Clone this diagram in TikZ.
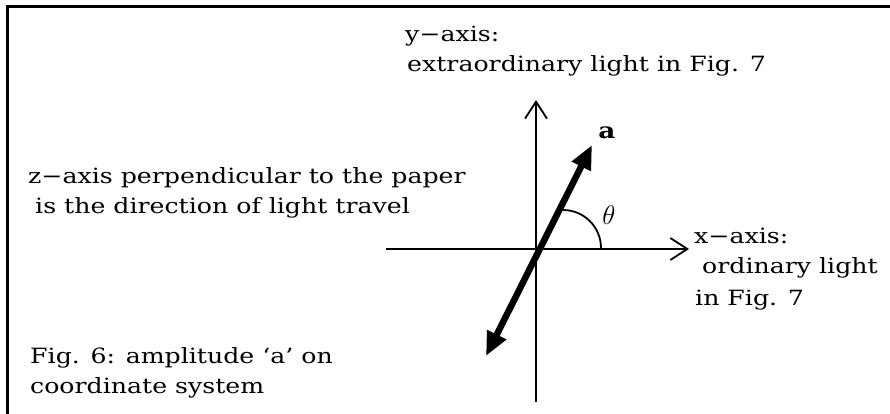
\documentclass[tikz,border=0pt]{standalone}
\usepackage{fontspec}
\setmainfont{DejaVu Serif}[FakeStretch=1.2]
\usetikzlibrary{arrows.meta}
\begin{document}
\begin{tikzpicture}[
    x=1pt, y=-1pt,
    every node/.style={inner sep=0pt, font=\fontsize{21}{30}\selectfont},
    lbl/.style={anchor=base west},
    axis/.style={line width=1.8pt, -{Straight Barb[length=17pt,width=22pt,line width=1.8pt]}},
    vec/.style={line width=6.5pt, {Triangle[length=24pt,width=20pt]}-{Triangle[length=24pt,width=20pt]}}
]
\useasboundingbox (0,0) rectangle (890,414);
\draw[line width=3pt] (7,7) rectangle (900,425);

% axes
\coordinate (O) at (536,249);
\coordinate (xl) at (386,249);
\coordinate (xr) at (689,249);
\coordinate (yb) at (536,402);
\coordinate (yt) at (536,100);
\draw[axis] (xl) -- (xr);
\draw[axis] (yb) -- (yt);

% amplitude a and angle
\coordinate (atip) at (592,145);
\coordinate (atail) at (486,356);
\draw[vec] (atail) -- (atip);
\node[anchor=base] (alab) at (607,139) {\fontsize{22}{22}\selectfont\textbf{a}};
\coordinate (arcs) at (563,210);
\draw[line width=1.8pt] (arcs) arc[start angle=-90, end angle=0, radius=38];
\node[scale=1.3] (theta) at (609,215) {$\theta$};

% labels
\node[lbl] (ylab1) at (405,42) {y−axis:};
\node[lbl] (ylab2) at (407,72) {extraordinary light in Fig. 7};
\node[lbl] (zlab1) at (28,183) {z−axis perpendicular to the paper};
\node[lbl] (zlab2) at (35,213) {is the direction of light travel};
\node[lbl] (xlab1) at (694,243) {x−axis:};
\node[lbl] (xlab2) at (702,273) {ordinary light};
\node[lbl] (xlab3) at (695,305) {in Fig. 7};
\node[lbl] (flab1) at (30,363) {Fig. 6: amplitude ‘a’ on};
\node[lbl] (flab2) at (30,393) {coordinate system};
\end{tikzpicture}
\end{document}
